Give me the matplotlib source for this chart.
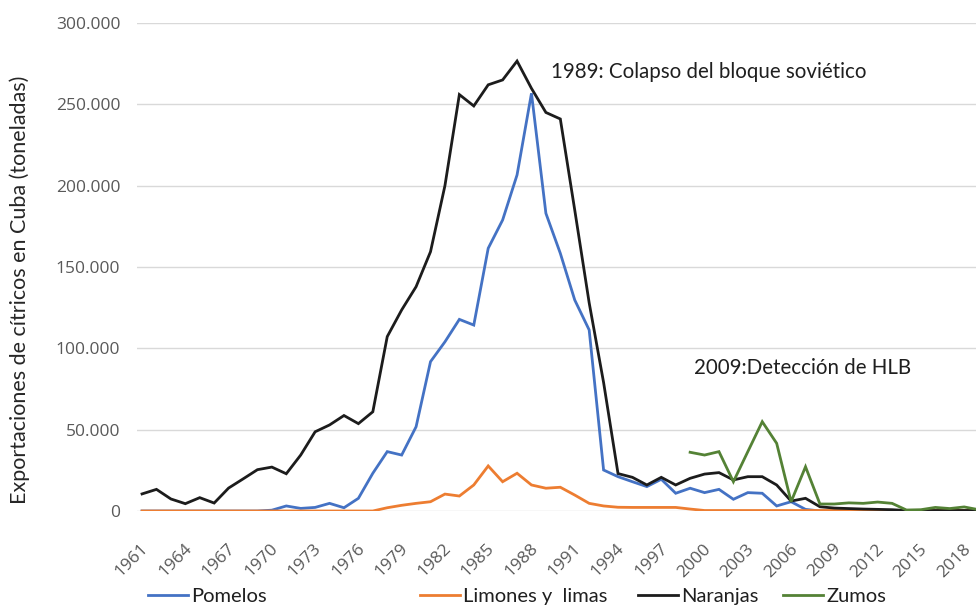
import numpy as np
import matplotlib
matplotlib.use('Agg')
import matplotlib.pyplot as plt
from matplotlib.ticker import FuncFormatter
from matplotlib.transforms import ScaledTranslation

# Citrus exports from Cuba, thousand tonnes
years = list(range(1961, 2020))

pomelos = [0, 0, 0, 0, 0, 0, 0, 0, 0, 0.5,
           3.1, 1.6, 2.2, 4.7, 2.0, 7.8, 23.2, 36.5, 34.4, 51.8,
           91.8, 104.0, 117.8, 114.3, 161.5, 178.9, 206.6, 256.8, 183.0, 158.4,
           129.7, 111.3, 25.2, 21.1, 18.0, 15.0, 19.5, 10.9, 14.0, 11.3,
           13.3, 7.2, 11.3, 10.9, 3.1, 5.7, 1.0, 0, 0, 0,
           0, 0, 0, 0, 0, 0, 0, 0, 0]

limones = [0, 0, 0, 0, 0, 0, 0, 0, 0, 0,
           0, 0, 0, 0, 0, 0, 0, 2.0, 3.5, 4.7,
           5.7, 10.4, 9.2, 16.0, 27.7, 18.0, 23.2, 16.0, 14.0, 14.6,
           9.8, 4.7, 3.1, 2.3, 2.2, 2.2, 2.2, 2.2, 1.2, 0.3,
           0.3, 0.3, 0.3, 0.3, 0.3, 0.3, 0.3, 0.3, 0.3, 0.3,
           0.3, 0.3, 0.3, 0.3, 0.3, 0.3, 0.3, 0.3, 0.3]

naranjas = [10.5, 13.3, 7.4, 4.5, 8.2, 4.9, 14.1, 19.7, 25.4, 27.0,
            22.9, 34.4, 48.7, 52.9, 58.7, 53.7, 61.0, 107.2, 123.6, 137.9,
            159.4, 200.0, 256.0, 249.0, 262.0, 265.0, 276.6, 259.8, 245.0, 241.0,
            185.0, 128.0, 79.0, 23.0, 20.7, 16.0, 20.7, 16.0, 20.1, 22.7,
            23.6, 19.1, 21.1, 21.1, 16.0, 6.1, 7.8, 2.6, 1.8, 1.5,
            1.2, 1.0, 0.8, 0.3, 0.3, 0.3, 0.3, 0.3, 0.3]

zumos = [np.nan] * 38 + [36.1, 34.4, 36.5, 18.0, 36.5, 54.9, 41.6, 5.7, 27.2, 4.3,
                         4.3, 5.0, 4.7, 5.5, 4.7, 0.6, 0.8, 2.2, 1.5, 2.5, 0.8]

series = [
    ('Pomelos', pomelos, '#4472C4'),
    ('Limones y  limas', limones, '#ED7D31'),
    ('Naranjas', naranjas, '#1c1c1c'),
    ('Zumos', zumos, '#548235'),
]

tick_years = years[::3]

fig = plt.figure(figsize=(9.76, 6.07), dpi=100)
ax = fig.add_axes([137 / 976, 96 / 607, 1 - 137 / 976, 488 / 607])

for label, vals, color in series:
    ax.plot(years, np.array(vals, dtype=float) * 1000, '-', color=color,
            linewidth=2.0, label=label, solid_joinstyle='miter')

ax.set_ylim(0, 300000)
ax.set_xlim(1960.65, 2018.82)
ax.set_yticks(np.arange(0, 300001, 50000))
ax.yaxis.set_major_formatter(FuncFormatter(lambda v, p: f"{int(v):,}".replace(',', '.')))
ax.set_xticks(tick_years)
ax.set_xticklabels([str(y) for y in tick_years], rotation=45, ha='right',
                   va='center', rotation_mode='anchor')

ax.grid(True, axis='y', color='#d9d9d9', linewidth=1.0)
ax.set_axisbelow(True)
for s in ax.spines.values():
    s.set_visible(False)
ax.tick_params(axis='both', length=0, colors='#595959', labelsize=12.5)
ax.tick_params(axis='y', pad=12)
ax.tick_params(axis='x', pad=14)
shift = ScaledTranslation(4 / 100, -16 / 100, fig.dpi_scale_trans)
for t in ax.get_xticklabels():
    t.set_fontfamily('Open Sans')
    t.set_transform(t.get_transform() + shift)
for t in ax.get_yticklabels():
    t.set_fontfamily('Open Sans')

ax.set_ylabel('Exportaciones de cítricos en Cuba (toneladas)', fontsize=15.5,
              fontfamily='Lato', color='#262626')
ax.yaxis.set_label_coords(-0.1275, 0.453)

ax.text(1989.34, 270000, '1989: Colapso del bloque soviético', fontsize=14.8,
        fontfamily='Lato', color='#1f1f1f', va='center', ha='left')
ax.text(1999.3, 88000, '2009:Detección de HLB', fontsize=14.8,
        fontfamily='Lato', color='#1f1f1f', va='center', ha='left')

# legend entries are spread unevenly in the reference, so place them one by one
handles, labels = ax.get_legend_handles_labels()
leg_x = [148, 420, 638, 783]
for h, l, x in zip(handles, labels, leg_x):
    leg = fig.legend([h], [l], loc='center left', bbox_to_anchor=(x / 976, 0.018),
                     frameon=False, borderpad=0, borderaxespad=0, handlelength=2.0,
                     handletextpad=0.15, prop={'family': 'Lato', 'size': 14.5})
    for t in leg.get_texts():
        t.set_color('#1f1f1f')

fig.savefig('out.png', dpi=100)
